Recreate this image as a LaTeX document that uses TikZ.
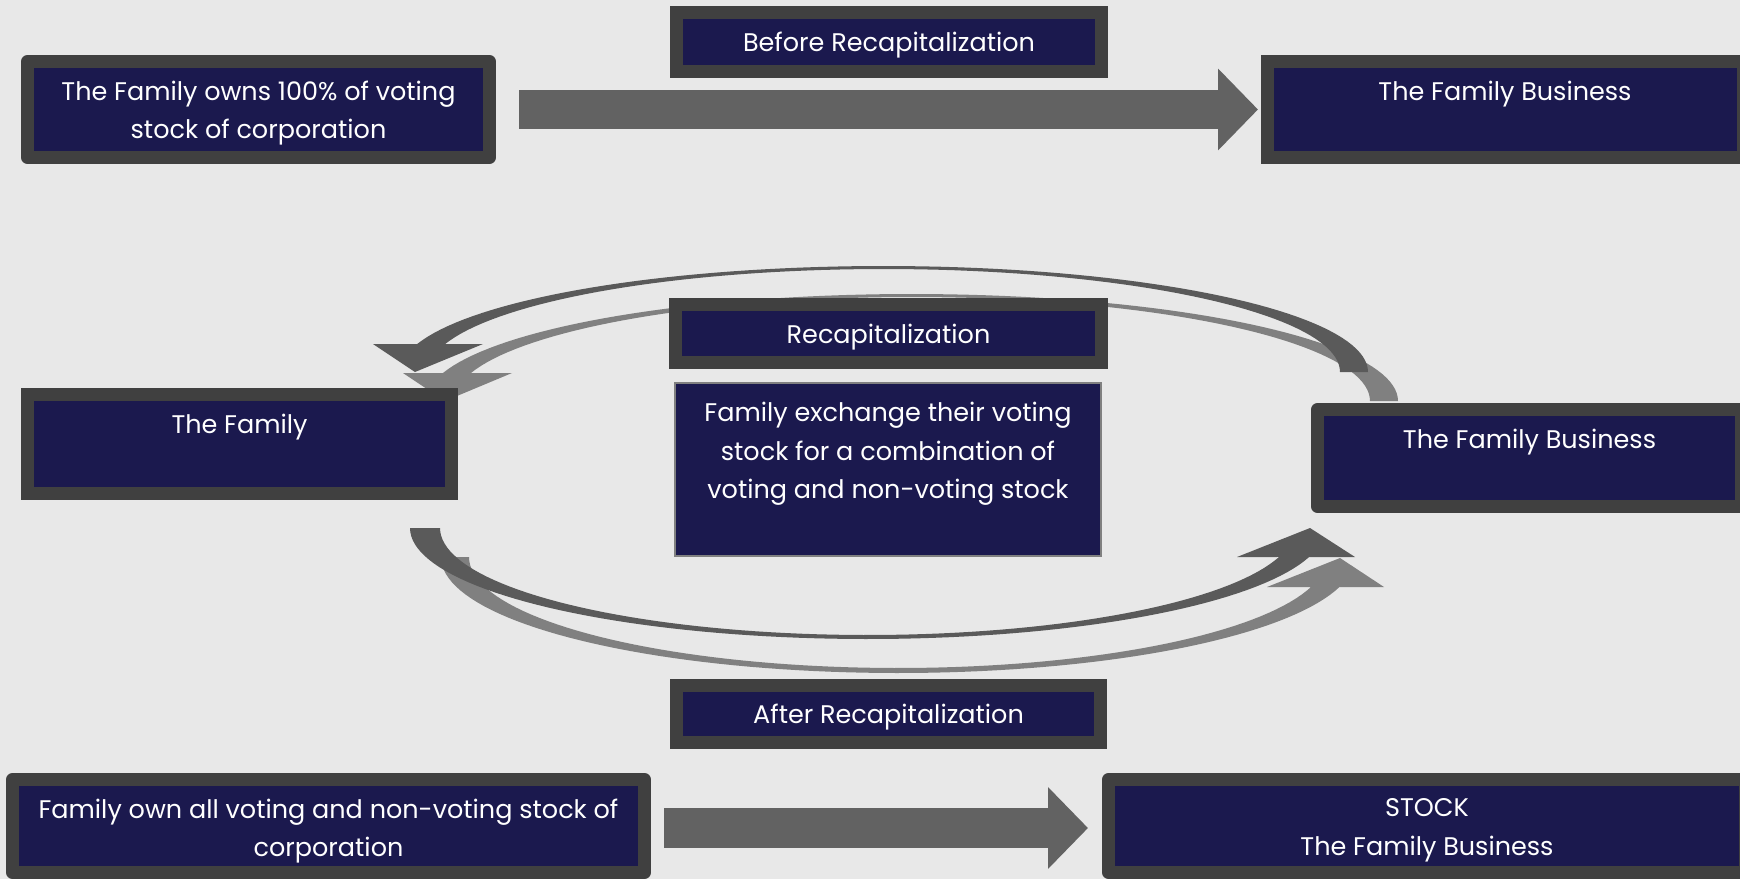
\documentclass[tikz,border=0pt]{standalone}
\usepackage{fontspec}
\setmainfont{Poppins}
\usetikzlibrary{arrows.meta,positioning,calc}
\definecolor{bg}{RGB}{232,232,232}
\definecolor{navy}{RGB}{27,25,78}
\definecolor{rim}{RGB}{64,64,64}
\definecolor{shaft}{RGB}{98,98,98}
\definecolor{arcdark}{RGB}{90,90,90}
\definecolor{arclight}{RGB}{128,128,128}
\definecolor{thinrim}{RGB}{128,128,128}
\newcommand{\boxfont}{\fontsize{25.5}{38.5}\selectfont}
\tikzset{
  box/.style={draw=rim, fill=navy, line width=13pt, inner sep=0pt, outer sep=0pt, text=white, font=\boxfont, align=center},
  tag/.style={box, text depth=0pt},
  soft/.style={line join=round},
  txt/.style={anchor=north, inner sep=0pt, yshift=-19pt, text=white, font=\boxfont, align=center},
  pipe/.style={draw=shaft, line width=39.5pt, line cap=butt, -{Triangle[length=40pt,width=79.5pt]}},
}

\begin{document}
\begin{tikzpicture}[x=1pt,y=-1pt]
  \useasboundingbox (0,0) rectangle (1740,879);
  \clip (0,0) rectangle (1740,879);
  \fill[bg] (0,0) rectangle (1740,879);
  \fill[arclight] (1398,401)
    -- plot[domain=0:164.83, variable=\t, samples=80] ({912+486*cos(\t)}, {401-107*sin(\t)})
    -- (403,373) -- (445,401) -- (512,373)
    -- plot[domain=164.38:0, variable=\t, samples=80] ({912+458*cos(\t)}, {401-104*sin(\t)}) -- cycle;
  \fill[arcdark] (1368,372)
    -- plot[domain=0:164.69, variable=\t, samples=80] ({884+484*cos(\t)}, {372-106*sin(\t)})
    -- (373,344) -- (415,372) -- (483,344)
    -- plot[domain=164.23:0, variable=\t, samples=80] ({884+456*cos(\t)}, {372-103*sin(\t)}) -- cycle;
  \fill[arclight] (441,557)
    -- plot[domain=180:14.99, variable=\t, samples=80] ({898+457*cos(\t)}, {557+116*sin(\t)})
    -- (1384,587) -- (1340,558) -- (1267,587)
    -- plot[domain=15.68:180, variable=\t, samples=80] ({898+429*cos(\t)}, {557+111*sin(\t)}) -- cycle;
  \fill[arcdark] (410,528)
    -- plot[domain=180:15.14, variable=\t, samples=80] ({867.5+457.5*cos(\t)}, {528+111*sin(\t)})
    -- (1355,557) -- (1310,528) -- (1237,557)
    -- plot[domain=15.72:180, variable=\t, samples=80] ({867.5+427.5*cos(\t)}, {528+107*sin(\t)}) -- cycle;

  \node[box, soft, minimum width=462pt, minimum height=96pt] (own) at (258.5,109.5) {};
  \node[txt] at (own.north) {The Family owns 100\% of voting\\stock of corporation};
  \node[tag, minimum width=425pt, minimum height=59pt] (before) at (889,42) {Before Recapitalization};
  \node[box, minimum width=476pt, minimum height=96pt] (bizTop) at (1505,109.5) {};
  \node[txt] at (bizTop.north) {The Family Business};

  \node[tag, minimum width=426pt, minimum height=58pt] (recap) at (888.5,333.5) {Recapitalization};
  \node[box, draw=thinrim, line width=2pt, minimum width=426pt, minimum height=173pt] (desc) at (888,469.5) {};
  \node[txt] at (desc.north) {Family exchange their voting\\stock for a combination of\\voting and non-voting stock};
  \node[box, minimum width=424pt, minimum height=99pt] (family) at (239.5,444) {};
  \node[txt] at (family.north) {The Family};
  \node[box, soft, minimum width=424pt, minimum height=97pt] (bizMid) at (1529.5,458) {};
  \node[txt] at (bizMid.north) {The Family Business};

  \node[tag, minimum width=424pt, minimum height=57pt] (after) at (888.5,714) {After Recapitalization};
  \node[box, soft, minimum width=632pt, minimum height=93pt] (ownAll) at (328.5,826) {};
  \node[txt] at (ownAll.north) {Family own all voting and non-voting stock of\\corporation};
  \node[box, soft, minimum width=637pt, minimum height=93pt] (bizBot) at (1427,826) {};
  \node[txt] at (bizBot.north) {STOCK\\The Family Business};

  \draw[pipe] ([xshift=29.5pt]own.east) -- ([xshift=-9pt]bizTop.west);
  \draw[pipe] ([xshift=19.5pt,yshift=-2pt]ownAll.east) -- ([xshift=-20.5pt,yshift=-2pt]bizBot.west);
\end{tikzpicture}
\end{document}
